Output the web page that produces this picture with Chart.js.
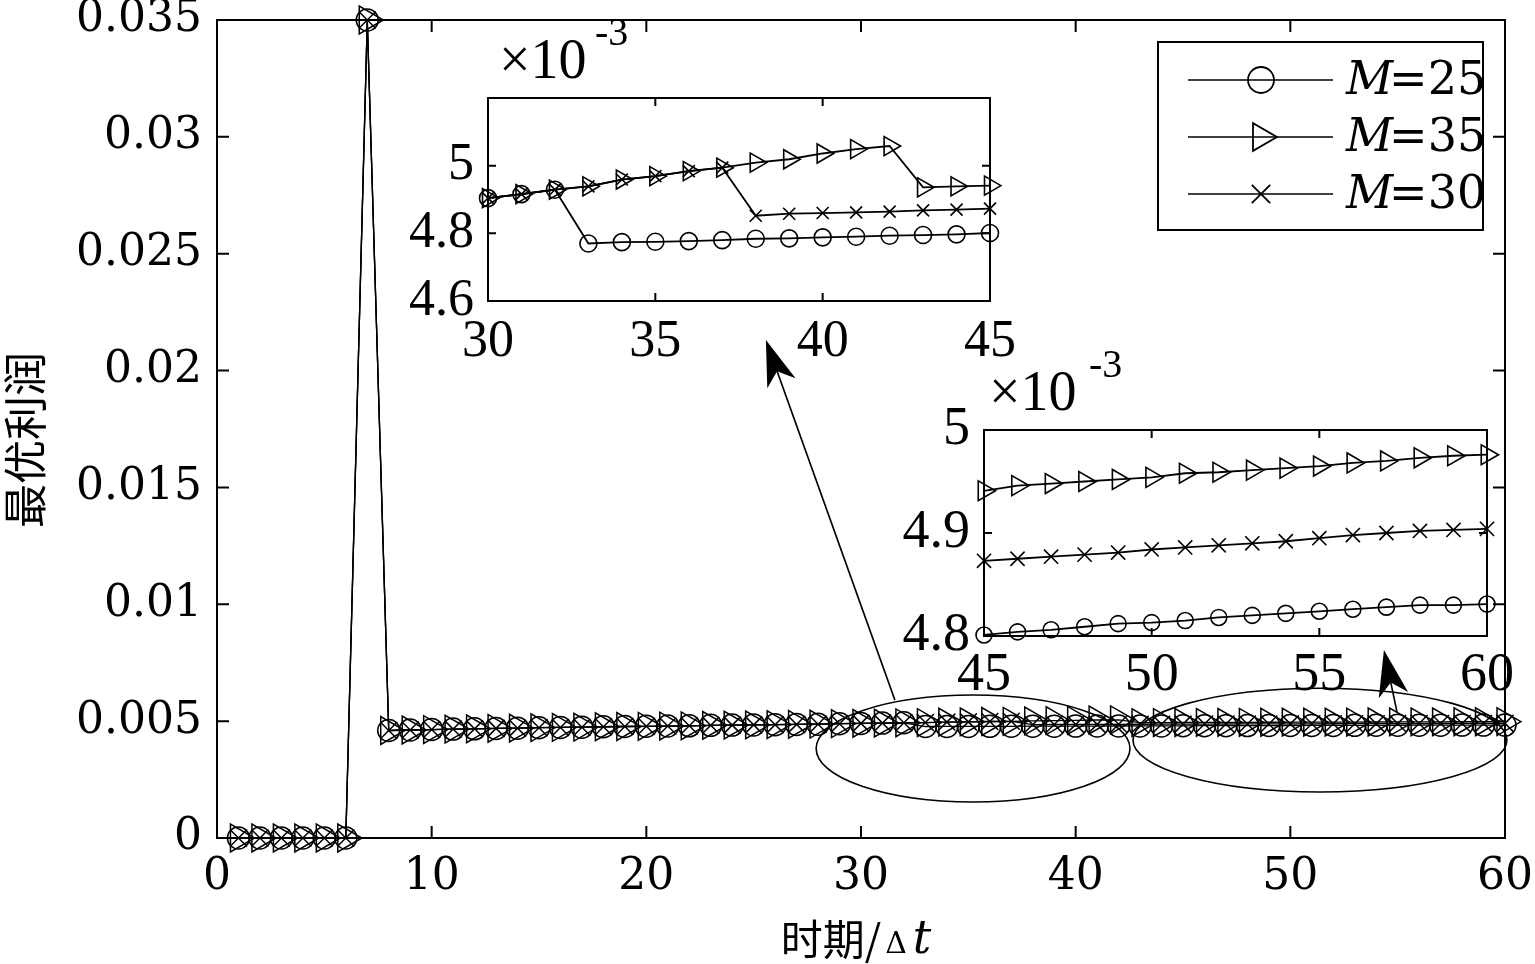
<!DOCTYPE html>
<html><head><meta charset="utf-8">
<script src="https://cdn.jsdelivr.net/npm/chart.js@4.4.1/dist/chart.umd.min.js"></script>
<style>
html,body{margin:0;padding:0;background:#fff;}
body{position:relative;width:1535px;height:964px;overflow:hidden;}
canvas{position:absolute;display:block;}
</style></head><body>
<canvas id="mainChart" width="1535" height="964" style="left:0;top:0;width:1535px;height:964px"></canvas>
<canvas id="inset1" width="640" height="380" style="left:390px;top:0;width:640px;height:380px"></canvas>
<canvas id="inset2" width="665" height="380" style="left:870px;top:340px;width:665px;height:380px"></canvas>
<script>
// ---------------- data (values in units of 10^-3) ----------------
const periods = [1,2,3,4,5,6,7,8,9,10,11,12,13,14,15,16,17,18,19,20,21,22,23,24,25,26,27,28,29,30,
  31,32,33,34,35,36,37,38,39,40,41,42,43,44,45,46,47,48,49,50,51,52,53,54,55,56,57,58,59,60];
const m25 = [0,0,0,0,0,0,35,4.60,4.62,4.64,4.66,4.67,4.69,4.70,4.72,4.73,4.74,4.76,4.77,4.78,4.79,4.80,4.82,4.83,4.84,4.85,4.86,4.87,4.89,4.904,
  4.916,4.929,4.770,4.774,4.775,4.777,4.780,4.784,4.785,4.788,4.790,4.793,4.795,4.797,4.801,
  4.804,4.806,4.809,4.812,4.813,4.815,4.818,4.820,4.822,4.824,4.826,4.828,4.830,4.830,4.831];
const m35 = [0,0,0,0,0,0,35,4.60,4.62,4.64,4.66,4.67,4.69,4.70,4.72,4.73,4.74,4.76,4.77,4.78,4.79,4.80,4.82,4.83,4.84,4.85,4.86,4.87,4.89,4.904,
  4.916,4.929,4.939,4.959,4.969,4.984,4.994,5.009,5.019,5.036,5.049,5.058,4.936,4.939,4.941,
  4.946,4.948,4.950,4.952,4.954,4.958,4.959,4.961,4.963,4.965,4.968,4.970,4.973,4.975,4.976];
const m30 = [0,0,0,0,0,0,35,4.60,4.62,4.64,4.66,4.67,4.69,4.70,4.72,4.73,4.74,4.76,4.77,4.78,4.79,4.80,4.82,4.83,4.84,4.85,4.86,4.87,4.89,4.904,
  4.916,4.929,4.939,4.959,4.969,4.984,4.994,4.852,4.858,4.860,4.862,4.864,4.868,4.870,4.873,
  4.875,4.877,4.879,4.881,4.884,4.886,4.888,4.890,4.892,4.895,4.898,4.900,4.902,4.903,4.904];
const seriesLabels = ['25','35','30'];

const mainXTicks = [0,10,20,30,40,50,60];
const mainYTicks = [0,0.005,0.01,0.015,0.02,0.025,0.03,0.035];
const inset1XTicks = [30,35,40,45];
const inset1YTicks = [4.6,4.8,5];
const inset2XTicks = [45,50,55,60];
const inset2YTicks = [4.8,4.9,5];

const yTitle = '最优利润';
const xTitleCJK = '时期/';
const xTitleDelta = 'Δ';
const xTitleVar = 't';
const expText = '×10';
const expSup = '-3';

// annotation shapes (in data coordinates of the main chart)
const ellipses = [
  {cx:35.22, cy:0.00383, rx:7.31, ry:0.00229},
  {cx:51.38, cy:0.00419, rx:8.71, ry:0.00222}
];
const arrows = [
  {x0:31.58, y0:0.00590, x1:25.57, y1:0.02131},
  {x0:54.97, y0:0.00539, x1:54.36, y1:0.00804}
];

// ---------------- helpers ----------------
const styles = [
  {pointStyle:'circle', rot:0},
  {pointStyle:'triangle', rot:90},
  {pointStyle:'crossRot', rot:0}
];
const seriesValues = [m25, m35, m30];

function buildDatasets(scale, lo, hi, radii, lw, mlw){
  return seriesValues.map((vals, k) => ({
    label: seriesLabels[k],
    data: periods.map((p,i)=>({x:p, y:vals[i]*scale})).filter(d=>d.x>=lo && d.x<=hi),
    borderColor:'#000', backgroundColor:'rgba(0,0,0,0)',
    borderWidth: lw,
    pointStyle: styles[k].pointStyle, pointRotation: styles[k].rot,
    pointRadius: radii[k], pointHoverRadius: radii[k],
    pointBorderColor:'#000', pointBackgroundColor:'rgba(0,0,0,0)',
    pointBorderWidth: mlw,
    tension:0, clip:false, showLine:true
  }));
}

const framePlugin = {
  id:'frame',
  beforeDatasetsDraw(chart, args, o){
    const {ctx, chartArea:a, scales:{x,y}} = chart;
    ctx.save();
    if (o.fill){ ctx.fillStyle='#fff'; ctx.fillRect(a.left,a.top,a.right-a.left,a.bottom-a.top); }
    ctx.strokeStyle='#000'; ctx.lineWidth=o.lw;
    ctx.beginPath();
    x.ticks.forEach(t=>{ const px=x.getPixelForValue(t.value);
      ctx.moveTo(px,a.bottom); ctx.lineTo(px,a.bottom-o.len);
      ctx.moveTo(px,a.top); ctx.lineTo(px,a.top+o.len); });
    y.ticks.forEach(t=>{ const py=y.getPixelForValue(t.value);
      ctx.moveTo(a.left,py); ctx.lineTo(a.left+o.len,py);
      ctx.moveTo(a.right,py); ctx.lineTo(a.right-o.len,py); });
    ctx.stroke();
    ctx.strokeRect(a.left,a.top,a.right-a.left,a.bottom-a.top);
    ctx.restore();
  }
};

function drawMarker(ctx, style, rot, r, x, y, lw){
  if (Chart.helpers && Chart.helpers.drawPoint){
    ctx.lineWidth = lw; ctx.strokeStyle='#000'; ctx.fillStyle='rgba(0,0,0,0)';
    Chart.helpers.drawPoint(ctx, {pointStyle:style, rotation:rot, radius:r, borderWidth:lw}, x, y);
  }
}

const annotPlugin = {
  id:'annot',
  afterDatasetsDraw(chart){
    const {ctx, scales:{x,y}} = chart;
    ctx.save();
    ctx.strokeStyle='#000'; ctx.fillStyle='#000'; ctx.lineWidth=1.6;
    ellipses.forEach(e=>{
      const cx=x.getPixelForValue(e.cx), cy=y.getPixelForValue(e.cy);
      const rx=Math.abs(x.getPixelForValue(e.cx+e.rx)-cx), ry=Math.abs(y.getPixelForValue(e.cy+e.ry)-cy);
      ctx.beginPath(); ctx.ellipse(cx,cy,rx,ry,0,0,2*Math.PI); ctx.stroke();
    });
    arrows.forEach(a=>{
      const x0=x.getPixelForValue(a.x0), y0=y.getPixelForValue(a.y0);
      const x1=x.getPixelForValue(a.x1), y1=y.getPixelForValue(a.y1);
      const d=Math.hypot(x1-x0,y1-y0), ux=(x1-x0)/d, uy=(y1-y0)/d, nx=-uy, ny=ux;
      const L=46, W=15, N=0.72*L;
      ctx.beginPath(); ctx.moveTo(x0,y0); ctx.lineTo(x1-ux*N, y1-uy*N); ctx.stroke();
      ctx.beginPath();
      ctx.moveTo(x1,y1);
      ctx.lineTo(x1-ux*L+nx*W, y1-uy*L+ny*W);
      ctx.lineTo(x1-ux*N, y1-uy*N);
      ctx.lineTo(x1-ux*L-nx*W, y1-uy*L-ny*W);
      ctx.closePath(); ctx.fill();
    });
    ctx.restore();
  }
};

const legendPlugin = {
  id:'boxLegend',
  afterDraw(chart){
    const ctx = chart.ctx;
    ctx.save();
    ctx.fillStyle='#fff'; ctx.fillRect(1158,42,325,188);
    ctx.strokeStyle='#000'; ctx.lineWidth=2; ctx.strokeRect(1158,42,325,188);
    const ys=[80,137,194], rad=[13,16,13];
    chart.data.datasets.forEach((ds,k)=>{
      const yy=ys[k];
      ctx.strokeStyle='#000'; ctx.lineWidth=1.6;
      ctx.beginPath(); ctx.moveTo(1188,yy); ctx.lineTo(1333,yy); ctx.stroke();
      ctx.save(); ctx.fillStyle='#fff';
      drawMarker(ctx, ds.pointStyle, ds.pointRotation, rad[k], 1261, yy, 1.8);
      ctx.restore();
      ctx.fillStyle='#000'; ctx.textBaseline='middle'; ctx.textAlign='left';
      ctx.font='italic 46px "DejaVu Serif"';
      ctx.fillText('M', 1346, yy+2);
      const w=ctx.measureText('M').width;
      ctx.font='46px "DejaVu Serif"';
      ctx.fillText('='+ds.label, 1346+w-4, yy+2);
    });
    ctx.restore();
  }
};

const titlesPlugin = {
  id:'titles',
  afterDraw(chart){
    const ctx=chart.ctx;
    ctx.save(); ctx.fillStyle='#000';
    // y title
    ctx.translate(25,440); ctx.rotate(-Math.PI/2);
    ctx.font='44px "Noto Sans CJK SC"'; ctx.textAlign='center'; ctx.textBaseline='middle';
    ctx.fillText(yTitle,0,0);
    ctx.restore();
    ctx.save(); ctx.fillStyle='#000'; ctx.textBaseline='alphabetic'; ctx.textAlign='left';
    ctx.font='42px "Noto Sans CJK SC"';
    const w1=ctx.measureText(xTitleCJK).width;
    ctx.font='30px "DejaVu Serif"';
    const w2=ctx.measureText(xTitleDelta).width;
    ctx.font='italic 46px "DejaVu Serif"';
    const w3=ctx.measureText(xTitleVar).width;
    let xx = 856 - (w1+w2+w3+10)/2; const base=957;
    ctx.font='42px "Noto Sans CJK SC"'; ctx.fillText(xTitleCJK,xx,base-2); xx+=w1+4;
    ctx.font='30px "DejaVu Serif"'; ctx.fillText(xTitleDelta,xx,base-4); xx+=w2+6;
    ctx.font='italic 46px "DejaVu Serif"'; ctx.fillText(xTitleVar,xx,base-4);
    ctx.restore();
  }
};

function expPlugin(x1,y1,x2,y2){
  return {
    id:'exp',
    afterDraw(chart){
      const ctx=chart.ctx; ctx.save(); ctx.fillStyle='#000'; ctx.textAlign='left'; ctx.textBaseline='alphabetic';
      ctx.font='56px "Liberation Serif"'; ctx.fillText(expText,x1,y1);
      ctx.font='40px "Liberation Serif"'; ctx.fillText(expSup,x2,y2);
      ctx.restore();
    }
  };
}

function fixedTicks(arr){ return s => { s.ticks = arr.map(v=>({value:v})); }; }
function fitBox(dim, val){
  return s => { s[dim] = val; s.paddingTop = 0; s.paddingBottom = 0; s.paddingLeft = 0; s.paddingRight = 0; };
}

// ---------------- main chart ----------------
new Chart(document.getElementById('mainChart'), {
  type:'line',
  data:{ datasets: buildDatasets(0.001, 1, 60, [11,16,12], 1.3, 1.5) },
  options:{
    responsive:false, animation:false, events:[],
    layout:{padding:{left:0,right:30,top:20,bottom:0}},
    plugins:{legend:{display:false}, tooltip:{enabled:false}, frame:{lw:2,len:12,fill:false}},
    scales:{
      x:{type:'linear', min:0, max:60, afterBuildTicks:fixedTicks(mainXTicks),
         afterFit:fitBox('height',126),
         grid:{display:false, drawTicks:false}, border:{display:false},
         ticks:{color:'#000', font:{family:'DejaVu Serif', size:44, lineHeight:1}, padding:18, maxRotation:0, autoSkip:false,
                callback:v=>String(v)}},
      y:{type:'linear', min:0, max:0.035, afterBuildTicks:fixedTicks(mainYTicks),
         afterFit:fitBox('width',217),
         grid:{display:false, drawTicks:false}, border:{display:false},
         ticks:{color:'#000', font:{family:'DejaVu Serif', size:44, lineHeight:0.8}, padding:15, autoSkip:false,
                callback:v=>String(v)}}
    }
  },
  plugins:[framePlugin, annotPlugin, legendPlugin, titlesPlugin]
});

// ---------------- inset 1 ----------------
new Chart(document.getElementById('inset1'), {
  type:'line',
  data:{ datasets: buildDatasets(1, 30, 45, [8.5,11,8.5], 1.8, 1.6) },
  options:{
    responsive:false, animation:false, events:[],
    layout:{padding:{left:0,right:40,top:98,bottom:0}},
    plugins:{legend:{display:false}, tooltip:{enabled:false}, frame:{lw:2,len:8,fill:true}},
    scales:{
      x:{type:'linear', min:30, max:45, afterBuildTicks:fixedTicks(inset1XTicks),
         afterFit:fitBox('height',79),
         grid:{display:false, drawTicks:false}, border:{display:false},
         ticks:{color:'#000', font:{family:'Liberation Serif', size:52, lineHeight:1}, padding:15, maxRotation:0, autoSkip:false,
                callback:v=>String(v)}},
      y:{type:'linear', min:4.6, max:5.2, afterBuildTicks:fixedTicks(inset1YTicks),
         afterFit:fitBox('width',98),
         grid:{display:false, drawTicks:false}, border:{display:false},
         ticks:{color:'#000', font:{family:'Liberation Serif', size:52, lineHeight:0.8}, padding:14, autoSkip:false,
                callback:v=>String(v)}}
    }
  },
  plugins:[framePlugin, expPlugin(109,78,205,45)]
});

// ---------------- inset 2 ----------------
new Chart(document.getElementById('inset2'), {
  type:'line',
  data:{ datasets: buildDatasets(1, 45, 60, [8,11.5,10], 1.8, 1.6) },
  options:{
    responsive:false, animation:false, events:[],
    layout:{padding:{left:0,right:48,top:90,bottom:0}},
    plugins:{legend:{display:false}, tooltip:{enabled:false}, frame:{lw:2,len:8,fill:true}},
    scales:{
      x:{type:'linear', min:45, max:60, afterBuildTicks:fixedTicks(inset2XTicks),
         afterFit:fitBox('height',84),
         grid:{display:false, drawTicks:false}, border:{display:false},
         ticks:{color:'#000', font:{family:'Liberation Serif', size:54, lineHeight:1}, padding:13, maxRotation:0, autoSkip:false,
                callback:v=>String(v)}},
      y:{type:'linear', min:4.8, max:5.0, afterBuildTicks:fixedTicks(inset2YTicks),
         afterFit:fitBox('width',114),
         grid:{display:false, drawTicks:false}, border:{display:false},
         ticks:{color:'#000', font:{family:'Liberation Serif', size:54, lineHeight:0.8}, padding:14, autoSkip:false,
                callback:v=>String(v)}}
    }
  },
  plugins:[framePlugin, expPlugin(119,70,219,37)]
});
</script>
</body></html>
